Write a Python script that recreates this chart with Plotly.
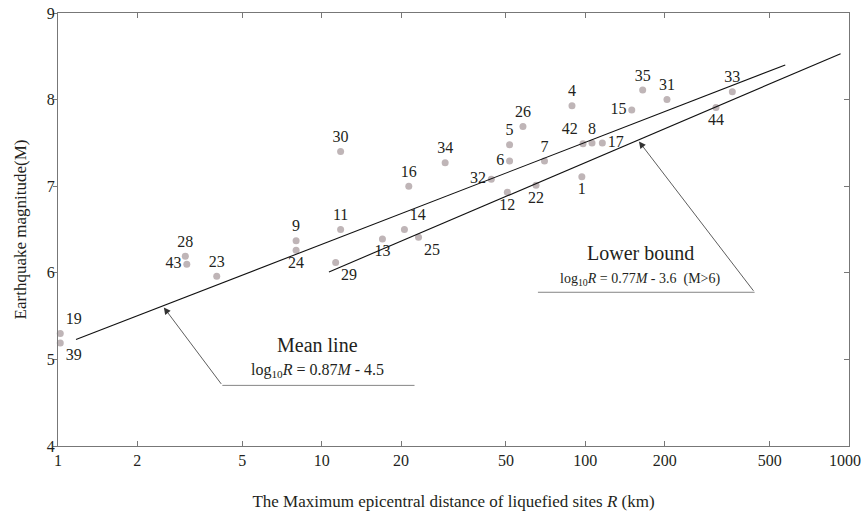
import numpy as np
import plotly.graph_objects as go

# ---------------- data ----------------
event_ids = [1, 4, 5, 6, 7, 8, 9, 11, 12, 13, 14, 15, 16, 17, 19, 22,
             23, 24, 25, 26, 28, 29, 30, 31, 32, 33, 34, 35, 39, 42, 43, 44]
distance_km = [97, 89, 51.6, 51.6, 70, 106, 8.0, 11.8, 50.6, 17.0, 20.6, 150, 21.4, 116, 1.02, 65,
               4.0, 8.0, 23.3, 58, 3.04, 11.3, 11.8, 204, 44, 361, 29.4, 165, 1.02, 98, 3.08, 313]
magnitude = [7.11, 7.93, 7.48, 7.29, 7.29, 7.50, 6.37, 6.50, 6.93, 6.39, 6.50, 7.88, 7.00, 7.50, 5.30, 7.01,
             5.96, 6.26, 6.41, 7.69, 6.19, 6.12, 7.40, 8.00, 7.08, 8.09, 7.27, 8.11, 5.19, 7.49, 6.10, 7.91]

mean_line_R = [1.17, 573]
mean_line_M = [5.23, 8.40]
lower_bound_M = [6.01, 8.53]          # log10 R = 0.77 M - 3.6
lower_bound_R = [10 ** (0.77 * m - 3.6) for m in lower_bound_M]

x_ticks = [1, 2, 5, 10, 20, 50, 100, 200, 500, 1000]
x_tick_text = ["1", "2", "5", "10", "20", "50", "100", "200", "500", "1000\u00a0\u00a0"]
y_ticks = [4, 5, 6, 7, 8, 9]

# ---------------- style ----------------
label_pos = {
    1: "bottom center", 4: "top center", 5: "top center", 6: "middle left", 7: "top center",
    8: "top center", 9: "top center", 11: "top center", 12: "bottom center", 13: "bottom center",
    14: "top right", 15: "middle left", 16: "top center", 17: "middle right", 19: "top right",
    22: "bottom center", 23: "top center", 24: "bottom center", 25: "bottom right", 26: "top center",
    28: "top center", 29: "bottom right", 30: "top center", 31: "top center", 32: "middle left",
    33: "top center", 34: "top center", 35: "top center", 39: "bottom right", 42: "top left",
    43: "middle left", 44: "bottom center",
}
FONT = "Liberation Serif"
TXT = "#231f20"
AX = "#777777"

fig = go.Figure()

fig.add_trace(go.Scatter(
    x=distance_km, y=magnitude, mode="markers+text",
    text=[str(i) for i in event_ids],
    textposition=[label_pos[i] for i in event_ids],
    textfont=dict(family=FONT, size=16, color=TXT),
    marker=dict(size=7, color="#bfb5b7"),
    cliponaxis=False, showlegend=False, hoverinfo="skip"))

fig.add_trace(go.Scatter(x=mean_line_R, y=mean_line_M, mode="lines",
                         line=dict(color="#111111", width=1.1), showlegend=False))
fig.add_trace(go.Scatter(x=lower_bound_R, y=lower_bound_M, mode="lines",
                         line=dict(color="#111111", width=1.1), showlegend=False))

# callout underlines
fig.add_trace(go.Scatter(x=[4.20, 22.5], y=[4.70, 4.70], mode="lines",
                         line=dict(color="#666666", width=0.8), showlegend=False))
fig.add_trace(go.Scatter(x=[66.1, 438.5], y=[5.775, 5.775], mode="lines",
                         line=dict(color="#666666", width=0.8), showlegend=False))

# dummy trace for right axis
fig.add_trace(go.Scatter(x=[1], y=[4], yaxis="y2", mode="markers",
                         marker=dict(opacity=0), showlegend=False, hoverinfo="skip"))

annotations = [
    dict(x=np.log10(2.52), y=5.60, ax=np.log10(4.20), ay=4.70, axref="x", ayref="y",
         xref="x", yref="y", text="", showarrow=True, arrowhead=2, arrowsize=1.7,
         arrowwidth=0.8, arrowcolor="#333333", standoff=0),
    dict(x=np.log10(159.7), y=7.517, ax=np.log10(438.5), ay=5.775, axref="x", ayref="y",
         xref="x", yref="y", text="", showarrow=True, arrowhead=2, arrowsize=1.7,
         arrowwidth=0.8, arrowcolor="#333333", standoff=0),
    dict(x=np.log10(9.68), y=5.165, xref="x", yref="y", text="Mean line", showarrow=False,
         font=dict(family=FONT, size=20, color=TXT)),
    dict(x=np.log10(9.68), y=4.876, xref="x", yref="y",
         text="log<sub>10</sub><i>R</i> = 0.87<i>M</i> - 4.5", showarrow=False,
         font=dict(family=FONT, size=16, color=TXT)),
    dict(x=np.log10(161.7), y=6.233, xref="x", yref="y", text="Lower bound", showarrow=False,
         font=dict(family=FONT, size=20, color=TXT)),
    dict(x=np.log10(161.7), y=5.917, xref="x", yref="y",
         text="log<sub>10</sub><i>R</i> = 0.77<i>M</i> - 3.6\u00a0\u00a0(M>6)", showarrow=False,
         font=dict(family=FONT, size=14, color=TXT)),
]

fig.update_layout(
    width=862, height=511,
    margin=dict(l=58, r=13, t=13, b=65, autoexpand=False),
    plot_bgcolor="white", paper_bgcolor="white",
    font=dict(family=FONT, size=16, color=TXT),
    annotations=annotations,
    xaxis=dict(type="log", range=[0, 3], tickvals=x_ticks, ticktext=x_tick_text,
               ticks="inside", ticklen=5, tickcolor=AX, showline=True, linecolor=AX, linewidth=1.2,
               mirror="ticks", showgrid=False, zeroline=False, automargin=False,
               ticklabeloverflow="allow",
               tickfont=dict(family=FONT, size=16, color=TXT),
               title=dict(text="The Maximum epicentral distance of liquefied sites <i>R</i> (km)",
                          font=dict(family=FONT, size=17, color=TXT), standoff=27)),
    yaxis=dict(range=[4, 9], tickvals=y_ticks, ticks="outside", ticklen=4, tickcolor=AX,
               showline=True, linecolor=AX, linewidth=1.2, showgrid=False, zeroline=False,
               automargin=False, ticklabelstandoff=-5, ticklabeloverflow="allow",
               tickfont=dict(family=FONT, size=16, color=TXT),
               title=dict(text="Earthquake magnitude(M)", font=dict(family=FONT, size=17, color=TXT),
                          standoff=15)),
    yaxis2=dict(range=[4, 9], overlaying="y", side="right", tickvals=y_ticks, ticks="inside",
                ticklen=5, tickcolor=AX, showline=True, linecolor=AX, linewidth=1.2,
                showticklabels=False, showgrid=False, zeroline=False, automargin=False),
)

fig.write_html("out.html", config={"displayModeBar": False},
               post_script="document.body.style.margin='0';document.body.style.overflow='hidden';")
